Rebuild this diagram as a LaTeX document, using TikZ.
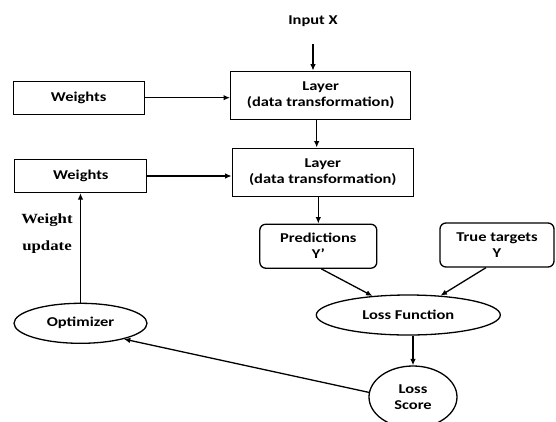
\documentclass[tikz,border=0pt]{standalone}
\usepackage{fontspec}
\usetikzlibrary{arrows.meta,shapes.geometric}
\newfontfamily\labfont[FakeStretch=1.22]{Carlito}
\newfontfamily\serfont[FakeStretch=1.2]{Liberation Serif}
\begin{document}
\begin{tikzpicture}[x=1pt,y=-1pt,
  lbl/.style={font=\labfont\bfseries\fontsize{13.5}{16}\selectfont, align=center, inner sep=0pt},
  box/.style={lbl, draw, line width=1.3pt, rectangle},
  rbox/.style={box, rounded corners=6pt},
  oval/.style={lbl, draw, line width=1.3pt, ellipse},
  arr/.style={line width=1.3pt, -{Latex[length=6.5pt,width=5.5pt]}}]
\useasboundingbox (0,0) rectangle (556,421);
\node[lbl] (in) at (313,21) {Input X};
\node[box, minimum width=180pt, minimum height=48pt] (L1) at (320.7,95.3) {Layer\\(data transformation)};
\node[box, minimum width=131pt, minimum height=33pt] (W1) at (78.7,97.7) {Weights};
\node[box, minimum width=181pt, minimum height=48pt] (L2) at (322.8,172.2) {Layer\\(data transformation)};
\node[box, minimum width=132pt, minimum height=33pt] (W2) at (80.8,176) {Weights};
\node[rbox, minimum width=117pt, minimum height=44pt] (P) at (318.3,246.2) {Predictions\\Y’};
\node[rbox, minimum width=114pt, minimum height=44pt] (T) at (497,245) {True targets\\Y};
\node[oval, minimum width=184pt, minimum height=40pt] (LF) at (408.3,315) {Loss Function};
\node[oval, minimum width=88pt, minimum height=62pt] (LS) at (413,397) {Loss\\Score};
\node[oval, minimum width=133pt, minimum height=40pt] (O) at (80.5,323.3) {Optimizer};
\node[font=\serfont\bfseries\fontsize{14}{27}\selectfont, align=center, inner sep=0pt] (wu) at (47,234) {Weight\\update};
\draw[arr] ([yshift=-17pt]in.south) -- (in.south |- L1.north);
\draw[arr] (W1.east) -- (W1.east -| L1.west);
\draw[arr] ([xshift=-4pt]L1.south) -- ([xshift=-4pt]L1.south |- L2.north);
\draw[arr] (W2.east) -- (W2.east -| L2.west);
\draw[arr] (L2.south -| P.north) -- (P.north);
\draw[arr] ([xshift=3pt]P.south) -- (LF.152);
\draw[arr] ([xshift=-11pt]T.south) -- (LF.31);
\draw[arr] (LS.north |- LF.south) -- (LS.north);
\draw[arr] (LS.174) -- (O.-20);
\draw[arr] (O.north) -- (O.north |- W2.south);
\end{tikzpicture}
\end{document}
